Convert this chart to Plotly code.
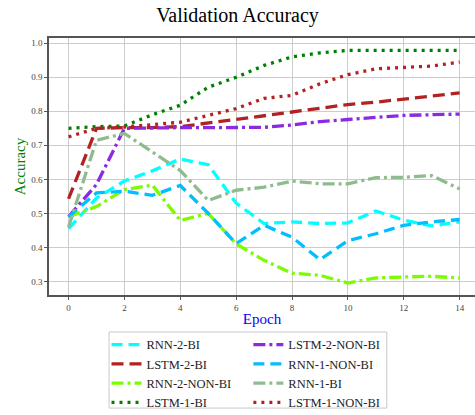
import plotly.graph_objects as go

epochs = list(range(15))

rnn_2_bi = [0.455, 0.545, 0.595, 0.625, 0.66, 0.643, 0.53, 0.47, 0.475, 0.47, 0.472, 0.507, 0.48, 0.463, 0.475]
lstm_2_bi = [0.543, 0.75, 0.752, 0.752, 0.755, 0.765, 0.776, 0.787, 0.798, 0.81, 0.82, 0.827, 0.835, 0.845, 0.854]
rnn_2_non_bi = [0.49, 0.52, 0.57, 0.583, 0.479, 0.50, 0.41, 0.362, 0.324, 0.318, 0.295, 0.31, 0.313, 0.315, 0.31]
lstm_1_bi = [0.75, 0.755, 0.757, 0.79, 0.818, 0.871, 0.90, 0.935, 0.96, 0.972, 0.979, 0.979, 0.979, 0.979, 0.979]
lstm_2_non_bi = [0.49, 0.585, 0.75, 0.752, 0.752, 0.752, 0.752, 0.753, 0.76, 0.77, 0.776, 0.782, 0.788, 0.79, 0.792]
rnn_1_non_bi = [0.49, 0.56, 0.565, 0.553, 0.582, 0.50, 0.411, 0.465, 0.43, 0.364, 0.42, 0.44, 0.465, 0.475, 0.482]
rnn_1_bi = [0.46, 0.715, 0.735, 0.68, 0.626, 0.538, 0.568, 0.577, 0.595, 0.587, 0.587, 0.605, 0.606, 0.611, 0.572]
lstm_1_non_bi = [0.725, 0.75, 0.754, 0.76, 0.768, 0.788, 0.808, 0.838, 0.847, 0.881, 0.908, 0.925, 0.928, 0.933, 0.945]

series = [
    ("RNN-2-BI", rnn_2_bi, "#00FFFF", "11px,6px", "legend"),
    ("LSTM-2-BI", lstm_2_bi, "#B22222", "12px,6px", "legend"),
    ("RNN-2-NON-BI", rnn_2_non_bi, "#7CFC00", "12px,4px,3px,4px", "legend"),
    ("LSTM-1-BI", lstm_1_bi, "#008000", "3px,5px", "legend"),
    ("LSTM-2-NON-BI", lstm_2_non_bi, "#8A2BE2", "12px,4px,3px,4px", "legend2"),
    ("RNN-1-NON-BI", rnn_1_non_bi, "#00BFFF", "11px,6px", "legend2"),
    ("RNN-1-BI", rnn_1_bi, "#8FBC8F", "12px,4px,3px,4px", "legend2"),
    ("LSTM-1-NON-BI", lstm_1_non_bi, "#B22222", "3px,5px", "legend2"),
]

fig = go.Figure()
for name, vals, color, dash, leg in series:
    fig.add_trace(go.Scatter(
        x=epochs, y=vals, mode="lines", name=name,
        line=dict(color=color, width=3.3, dash=dash),
        legend=leg,
    ))

serif = "'Liberation Serif', 'Times New Roman', serif"
leg_common = dict(
    orientation="v", xanchor="left", yanchor="top", y=-0.136,
    bgcolor="rgba(0,0,0,0)", borderwidth=0,
    font=dict(family=serif, size=12.5, color="#222"),
    tracegroupgap=0, itemwidth=30, traceorder="normal",
)

fig.update_layout(
    width=475, height=415,
    margin=dict(l=49, r=0, t=38, b=120, autoexpand=False),
    paper_bgcolor="white", plot_bgcolor="white",
    title=dict(text="Validation Accuracy", x=0.5, xanchor="center", y=0.965, yanchor="middle",
               font=dict(family=serif, size=20, color="black")),
    font=dict(family=serif),
    showlegend=True,
    legend=dict(x=0.135, **leg_common),
    legend2=dict(x=0.468, **leg_common),
    shapes=[dict(type="rect", xref="paper", yref="paper",
                 x0=0.141, x1=0.793, y0=-0.440, y1=-0.144,
                 line=dict(color="#c8c8c8", width=1), fillcolor="rgba(0,0,0,0)", layer="above")],
)

fig.update_xaxes(
    range=[-0.7, 14.55], tickvals=list(range(0, 15, 2)),
    showgrid=True, gridcolor="#cccccc", gridwidth=1,
    showline=True, linecolor="#555", linewidth=1.5, mirror=True,
    ticks="outside", ticklen=3, tickcolor="#555",
    tickfont=dict(family=serif, size=9, color="#444"),
    zeroline=False,
    title=dict(text="Epoch", font=dict(family=serif, size=15, color="blue"), standoff=2),
)
fig.update_yaxes(
    range=[0.26, 1.0156], tickvals=[0.3, 0.4, 0.5, 0.6, 0.7, 0.8, 0.9, 1.0], tickformat=".1f",
    showgrid=True, gridcolor="#cccccc", gridwidth=1,
    showline=True, linecolor="#555", linewidth=1.5, mirror=True,
    ticks="outside", ticklen=3, tickcolor="#555",
    tickfont=dict(family=serif, size=9, color="#444"),
    zeroline=False,
    title=dict(text="Accuracy", font=dict(family=serif, size=15, color="green"), standoff=2),
)

fig.write_html("out.html", config={"displayModeBar": False},
               post_script="document.body.style.margin='0';document.body.style.padding='0';")
